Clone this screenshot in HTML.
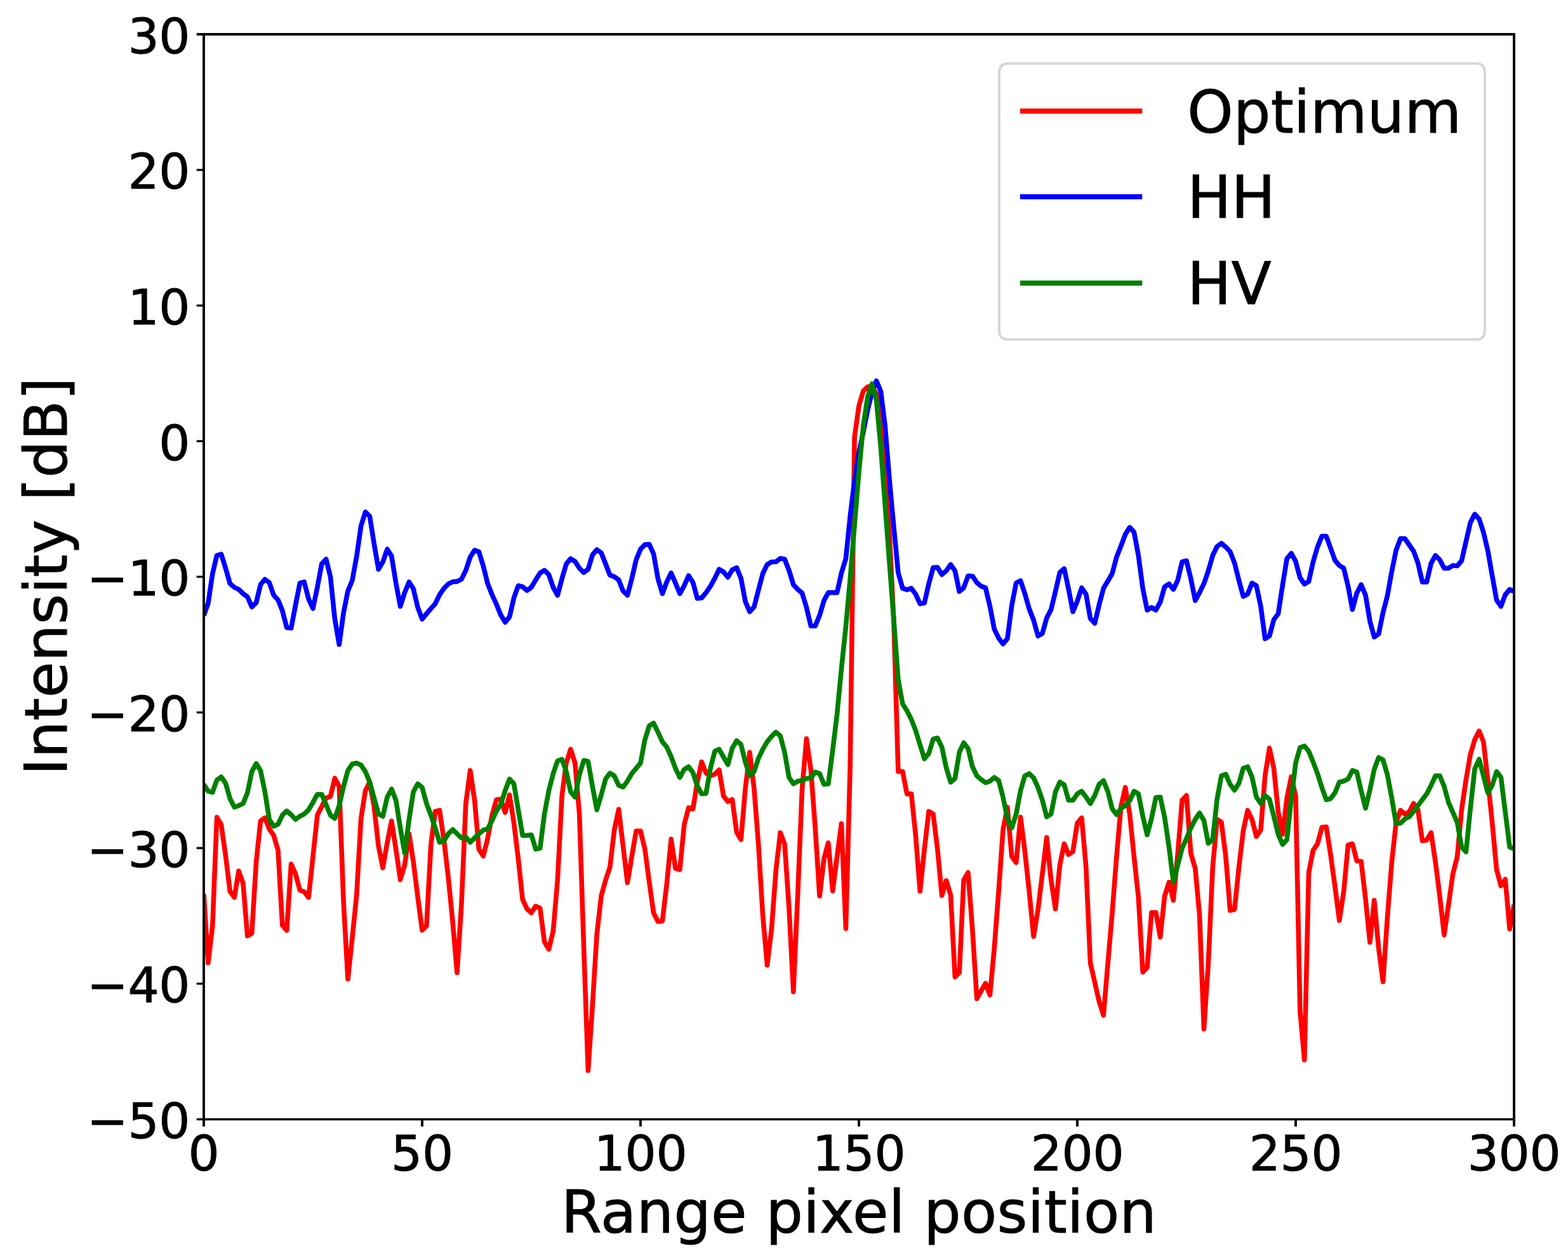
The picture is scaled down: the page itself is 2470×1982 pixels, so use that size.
<!DOCTYPE html>
<html lang="en"><head><meta charset="utf-8"><title>Intensity vs range pixel position</title>
<style>html,body{margin:0;padding:0;background:#fff}body{width:2470px;height:1982px;overflow:hidden}svg{display:block}text{font-family:"DejaVu Sans","Liberation Sans",sans-serif;fill:#000;stroke:#000;stroke-width:1.0px;stroke-linejoin:miter}</style></head><body>
<svg width="2470" height="1982" viewBox="0 0 2470 1982">
<rect width="2470" height="1982" fill="#fff"/>
<defs><clipPath id="ax"><rect x="321.0" y="54.0" width="2064.0" height="1709.5"/></clipPath></defs>
<g clip-path="url(#ax)">
<polyline points="321.0,1408.4 327.9,1516.9 334.8,1458.7 341.6,1287.6 348.5,1299.3 355.4,1348.0 362.3,1404.2 369.2,1413.8 376.0,1372.3 382.9,1391.6 389.8,1474.6 396.7,1470.4 403.6,1358.1 410.4,1293.5 417.3,1288.4 424.2,1306.1 431.1,1316.1 438.0,1339.6 444.8,1457.8 451.7,1465.7 458.6,1361.4 465.5,1376.5 472.4,1402.5 479.2,1405.0 486.1,1413.8 493.0,1349.6 499.9,1284.3 506.8,1270.8 513.6,1257.4 520.5,1254.9 527.4,1226.1 534.3,1239.0 541.2,1421.8 548.0,1542.5 554.9,1477.8 561.8,1409.7 568.7,1289.3 575.6,1245.7 582.4,1232.3 589.3,1270.8 596.2,1332.9 603.1,1367.2 610.0,1327.8 616.8,1293.5 623.7,1337.9 630.6,1386.0 637.5,1363.0 644.4,1313.6 651.2,1358.0 658.1,1413.4 665.0,1465.7 671.9,1458.7 678.8,1331.2 685.6,1278.4 692.5,1276.7 699.4,1324.5 706.3,1383.2 713.2,1453.7 720.0,1532.4 726.9,1425.2 733.8,1265.8 740.7,1213.9 747.6,1260.8 754.4,1337.9 761.3,1348.8 768.2,1321.1 775.1,1284.3 782.0,1260.0 788.8,1259.1 795.7,1280.1 802.6,1252.4 809.5,1296.0 816.4,1353.0 823.2,1416.8 830.1,1431.9 837.0,1438.2 843.9,1427.7 850.8,1431.0 857.6,1483.8 864.5,1495.6 871.4,1467.1 878.3,1386.5 885.2,1254.1 892.0,1202.1 898.9,1180.3 905.8,1202.1 912.7,1282.6 919.6,1492.0 926.4,1686.7 933.3,1584.4 940.2,1472.1 947.1,1411.8 954.0,1386.5 960.8,1366.4 967.7,1307.7 974.6,1275.0 981.5,1332.9 988.4,1390.7 995.2,1349.6 1002.1,1309.4 1009.0,1309.4 1015.9,1337.9 1022.8,1389.9 1029.6,1438.6 1036.5,1452.0 1043.4,1451.1 1050.3,1393.2 1057.2,1322.0 1064.0,1368.1 1070.9,1370.1 1077.8,1299.3 1084.7,1272.5 1091.6,1274.5 1098.4,1232.3 1105.3,1200.4 1112.2,1218.0 1119.1,1222.2 1126.0,1219.7 1132.8,1213.0 1139.7,1254.1 1146.6,1262.8 1153.5,1259.6 1160.4,1311.1 1167.2,1322.8 1174.1,1242.4 1181.0,1185.4 1187.9,1242.4 1194.8,1331.2 1201.6,1441.9 1208.5,1520.7 1215.4,1463.7 1222.3,1371.4 1229.2,1311.9 1236.0,1329.5 1242.9,1430.2 1249.8,1562.6 1256.7,1408.4 1263.6,1242.4 1270.4,1163.9 1277.3,1212.2 1284.2,1304.4 1291.1,1411.8 1298.0,1353.0 1304.8,1327.8 1311.7,1403.7 1318.6,1349.6 1325.5,1297.7 1332.4,1462.9 1339.2,1207.9 1346.1,688.7 1353.0,639.5 1359.9,616.0 1366.8,609.6 1373.6,608.5 1380.5,620.3 1387.4,656.6 1394.3,744.2 1401.2,844.6 1408.0,979.3 1414.9,1215.5 1421.8,1215.5 1428.7,1250.7 1435.6,1250.7 1442.4,1316.1 1449.3,1404.2 1456.2,1337.9 1463.1,1278.4 1470.0,1282.6 1476.8,1337.9 1483.7,1410.9 1490.6,1387.3 1497.5,1410.1 1504.4,1539.1 1511.2,1532.4 1518.1,1386.5 1525.0,1374.8 1531.9,1465.4 1538.8,1573.5 1545.6,1561.3 1552.5,1549.2 1559.4,1567.6 1566.3,1493.9 1573.2,1403.4 1580.0,1307.7 1586.9,1271.7 1593.8,1349.6 1600.7,1358.9 1607.6,1287.6 1614.4,1341.3 1621.3,1405.0 1628.2,1475.4 1635.1,1433.5 1642.0,1376.5 1648.8,1319.5 1655.7,1386.5 1662.6,1431.9 1669.5,1363.0 1676.4,1329.5 1683.2,1346.3 1690.1,1341.3 1697.0,1296.8 1703.9,1288.4 1710.8,1366.4 1717.6,1517.4 1724.5,1547.5 1731.4,1577.7 1738.3,1599.5 1745.2,1517.4 1752.0,1438.6 1758.9,1349.6 1765.8,1270.8 1772.7,1240.7 1779.6,1282.6 1786.4,1349.6 1793.3,1413.4 1800.2,1531.6 1807.1,1524.1 1814.0,1437.7 1820.8,1437.7 1827.7,1476.3 1834.6,1411.8 1841.5,1389.9 1848.4,1418.5 1855.2,1346.3 1862.1,1260.8 1869.0,1253.2 1875.9,1344.6 1882.8,1368.1 1889.6,1441.9 1896.5,1621.3 1903.4,1517.4 1910.3,1366.4 1917.2,1291.0 1924.0,1295.2 1930.9,1349.6 1937.8,1434.4 1944.7,1432.7 1951.6,1366.4 1958.4,1309.4 1965.3,1276.7 1972.2,1291.0 1979.1,1317.8 1986.0,1307.7 1992.8,1222.2 1999.7,1178.7 2006.6,1210.5 2013.5,1279.2 2020.4,1314.4 2027.2,1257.4 2034.1,1223.9 2041.0,1254.1 2047.9,1592.8 2054.8,1669.9 2061.6,1374.8 2068.5,1339.6 2075.4,1329.5 2082.3,1303.5 2089.2,1302.7 2096.0,1346.3 2102.9,1396.6 2109.8,1450.3 2116.7,1405.0 2123.6,1331.2 2130.4,1329.5 2137.3,1356.3 2144.2,1357.2 2151.1,1416.8 2158.0,1484.7 2164.8,1418.5 2171.7,1493.9 2178.6,1546.7 2185.5,1445.3 2192.4,1358.0 2199.2,1296.0 2206.1,1276.7 2213.0,1282.6 2219.9,1279.2 2226.8,1265.8 2233.6,1275.9 2240.5,1324.5 2247.4,1323.7 2254.3,1311.9 2261.2,1358.0 2268.0,1411.8 2274.9,1472.9 2281.8,1425.2 2288.7,1376.5 2295.6,1349.6 2302.4,1275.9 2309.3,1228.9 2316.2,1188.7 2323.1,1165.2 2330.0,1151.8 2336.8,1168.6 2343.7,1228.9 2350.6,1296.0 2357.5,1369.7 2364.4,1395.7 2371.2,1385.2 2378.1,1463.7 2385.0,1425.2" fill="none" stroke="#ff0000" stroke-width="7.6" stroke-linejoin="round" stroke-linecap="butt"/>
<polyline points="321.0,969.7 327.9,950.4 334.8,903.9 341.6,875.2 348.5,873.2 355.4,895.2 362.3,919.4 369.2,925.3 376.0,928.6 382.9,935.3 389.8,940.3 396.7,956.2 403.6,949.5 410.4,921.1 417.3,912.7 424.2,917.8 431.1,937.8 438.0,945.3 444.8,962.0 451.7,988.7 458.6,989.6 465.5,953.7 472.4,918.6 479.2,916.9 486.1,943.6 493.0,958.7 499.9,925.3 506.8,888.5 513.6,881.0 520.5,908.6 527.4,975.4 534.3,1015.4 541.2,965.3 548.0,931.1 554.9,914.4 561.8,876.8 568.7,828.4 575.6,806.7 582.4,813.4 589.3,856.8 596.2,896.9 603.1,885.2 610.0,865.2 616.8,876.0 623.7,918.6 630.6,955.3 637.5,933.6 644.4,916.9 651.2,927.8 658.1,957.0 665.0,975.4 671.9,967.0 678.8,958.7 685.6,951.2 692.5,937.0 699.4,926.9 706.3,919.9 713.2,916.6 720.0,916.1 726.9,912.7 733.8,898.6 740.7,877.7 747.6,866.8 754.4,869.3 761.3,891.9 768.2,919.4 775.1,937.0 782.0,952.0 788.8,968.7 795.7,980.4 802.6,972.0 809.5,942.0 816.4,922.8 823.2,924.4 830.1,930.3 837.0,925.3 843.9,913.6 850.8,902.7 857.6,898.6 864.5,905.2 871.4,925.3 878.3,937.8 885.2,911.9 892.0,888.5 898.9,880.2 905.8,884.4 912.7,895.2 919.6,901.9 926.4,896.9 933.3,874.3 940.2,866.0 947.1,871.0 954.0,888.5 960.8,906.1 967.7,908.6 974.6,913.6 981.5,931.1 988.4,937.8 995.2,911.9 1002.1,881.9 1009.0,865.2 1015.9,858.1 1022.8,857.6 1029.6,872.7 1036.5,911.9 1043.4,935.3 1050.3,916.9 1057.2,902.7 1064.0,918.6 1070.9,935.3 1077.8,922.8 1084.7,906.9 1091.6,917.8 1098.4,942.8 1105.3,942.0 1112.2,933.6 1119.1,923.6 1126.0,911.1 1132.8,896.9 1139.7,901.1 1146.6,909.4 1153.5,897.7 1160.4,894.4 1167.2,911.1 1174.1,947.8 1181.0,963.7 1187.9,956.2 1194.8,929.4 1201.6,903.6 1208.5,889.4 1215.4,885.2 1222.3,885.2 1229.2,879.7 1236.0,881.0 1242.9,898.6 1249.8,921.1 1256.7,928.6 1263.6,934.5 1270.4,957.0 1277.3,986.2 1284.2,986.2 1291.1,969.5 1298.0,946.1 1304.8,933.6 1311.7,933.6 1318.6,933.6 1325.5,902.7 1332.4,880.2 1339.2,813.4 1346.1,757.0 1353.0,712.2 1359.9,681.0 1366.8,645.9 1373.6,618.1 1380.5,600.0 1387.4,616.2 1394.3,671.6 1401.2,757.0 1408.0,831.2 1414.9,902.3 1421.8,926.9 1428.7,929.1 1435.6,926.9 1442.4,936.1 1449.3,951.2 1456.2,950.0 1463.1,919.4 1470.0,894.4 1476.8,893.9 1483.7,905.2 1490.6,899.4 1497.5,889.4 1504.4,899.4 1511.2,931.9 1518.1,926.1 1525.0,907.2 1531.9,907.7 1538.8,917.8 1545.6,923.6 1552.5,926.1 1559.4,955.3 1566.3,991.2 1573.2,1005.4 1580.0,1014.6 1586.9,1006.3 1593.8,953.7 1600.7,918.6 1607.6,914.9 1614.4,935.3 1621.3,959.5 1628.2,977.0 1635.1,1002.1 1642.0,997.9 1648.8,973.7 1655.7,960.3 1662.6,931.9 1669.5,901.9 1676.4,896.0 1683.2,927.8 1690.1,963.7 1697.0,947.0 1703.9,926.1 1710.8,936.1 1717.6,974.5 1724.5,982.0 1731.4,952.8 1738.3,926.9 1745.2,915.3 1752.0,903.6 1758.9,877.7 1765.8,860.1 1772.7,841.8 1779.6,830.9 1786.4,838.4 1793.3,875.2 1800.2,926.9 1807.1,961.2 1814.0,957.0 1820.8,961.2 1827.7,948.6 1834.6,924.4 1841.5,919.9 1848.4,928.6 1855.2,914.4 1862.1,885.2 1869.0,883.5 1875.9,911.9 1882.8,946.1 1889.6,933.6 1896.5,919.4 1903.4,899.4 1910.3,875.2 1917.2,861.0 1924.0,856.0 1930.9,861.8 1937.8,869.3 1944.7,886.9 1951.6,914.4 1958.4,939.5 1965.3,936.1 1972.2,918.6 1979.1,922.8 1986.0,955.3 1992.8,1006.3 1999.7,1002.1 2006.6,976.2 2013.5,967.0 2020.4,921.9 2027.2,880.2 2034.1,871.8 2041.0,884.4 2047.9,910.2 2054.8,920.3 2061.6,916.1 2068.5,885.2 2075.4,861.8 2082.3,844.8 2089.2,844.8 2096.0,863.5 2102.9,882.7 2109.8,891.0 2116.7,895.2 2123.6,923.6 2130.4,960.3 2137.3,934.5 2144.2,921.1 2151.1,937.8 2158.0,978.7 2164.8,1003.7 2171.7,998.7 2178.6,965.3 2185.5,938.6 2192.4,900.2 2199.2,866.8 2206.1,848.5 2213.0,848.5 2219.9,858.5 2226.8,868.5 2233.6,886.9 2240.5,916.9 2247.4,916.9 2254.3,887.7 2261.2,875.2 2268.0,881.9 2274.9,895.2 2281.8,895.2 2288.7,891.0 2295.6,891.5 2302.4,883.5 2309.3,853.5 2316.2,823.4 2323.1,810.1 2330.0,817.6 2336.8,838.4 2343.7,867.7 2350.6,906.9 2357.5,945.3 2364.4,955.3 2371.2,937.0 2378.1,928.6 2385.0,931.9" fill="none" stroke="#0000ff" stroke-width="7.6" stroke-linejoin="round" stroke-linecap="butt"/>
<polyline points="321.0,1235.7 327.9,1246.6 334.8,1248.3 341.6,1229.0 348.5,1224.0 355.4,1234.0 362.3,1258.3 369.2,1271.7 376.0,1269.2 382.9,1265.9 389.8,1249.1 396.7,1215.6 403.6,1203.0 410.4,1213.9 417.3,1247.4 424.2,1291.0 431.1,1301.9 438.0,1298.6 444.8,1284.3 451.7,1277.6 458.6,1283.5 465.5,1291.0 472.4,1286.0 479.2,1282.6 486.1,1275.9 493.0,1264.2 499.9,1251.6 506.8,1251.6 513.6,1267.5 520.5,1284.3 527.4,1289.3 534.3,1269.2 541.2,1239.0 548.0,1213.9 554.9,1203.8 561.8,1202.2 568.7,1205.5 575.6,1215.6 582.4,1232.3 589.3,1257.5 596.2,1282.6 603.1,1286.0 610.0,1255.8 616.8,1243.2 623.7,1260.8 630.6,1304.4 637.5,1343.8 644.4,1291.0 651.2,1247.4 658.1,1234.9 665.0,1240.7 671.9,1265.9 678.8,1284.3 685.6,1304.4 692.5,1327.1 699.4,1324.5 706.3,1313.6 713.2,1306.9 720.0,1313.6 726.9,1320.3 733.8,1318.7 740.7,1327.1 747.6,1320.3 754.4,1313.6 761.3,1307.8 768.2,1306.1 775.1,1292.7 782.0,1277.6 788.8,1267.5 795.7,1245.8 802.6,1227.3 809.5,1234.9 816.4,1275.9 823.2,1316.2 830.1,1316.2 837.0,1315.3 843.9,1337.9 850.8,1336.3 857.6,1282.6 864.5,1245.8 871.4,1218.9 878.3,1198.8 885.2,1196.3 892.0,1215.6 898.9,1247.4 905.8,1255.8 912.7,1220.6 919.6,1198.0 926.4,1199.7 933.3,1239.0 940.2,1275.9 947.1,1252.5 954.0,1227.3 960.8,1218.1 967.7,1222.3 974.6,1237.4 981.5,1239.9 988.4,1230.7 995.2,1218.9 1002.1,1210.5 1009.0,1202.2 1015.9,1165.3 1022.8,1143.5 1029.6,1139.3 1036.5,1153.6 1043.4,1168.6 1050.3,1177.0 1057.2,1192.1 1064.0,1210.5 1070.9,1224.8 1077.8,1212.2 1084.7,1208.0 1091.6,1217.3 1098.4,1238.2 1105.3,1250.8 1112.2,1249.9 1119.1,1210.5 1126.0,1183.7 1132.8,1180.4 1139.7,1192.9 1146.6,1204.7 1153.5,1178.7 1160.4,1167.0 1167.2,1172.8 1174.1,1200.5 1181.0,1222.3 1187.9,1215.6 1194.8,1194.6 1201.6,1180.4 1208.5,1168.6 1215.4,1160.3 1222.3,1153.6 1229.2,1159.4 1236.0,1185.4 1242.9,1224.8 1249.8,1234.9 1256.7,1230.7 1263.6,1229.8 1270.4,1226.5 1277.3,1225.6 1284.2,1216.4 1291.1,1218.9 1298.0,1235.7 1304.8,1234.9 1311.7,1182.1 1318.6,1125.1 1325.5,1053.2 1332.4,987.4 1339.2,912.2 1346.1,827.5 1353.0,743.4 1359.9,670.5 1366.8,625.4 1373.6,604.7 1380.5,630.1 1387.4,704.0 1394.3,796.6 1401.2,888.0 1408.0,978.2 1414.9,1070.5 1421.8,1108.8 1428.7,1120.0 1435.6,1133.4 1442.4,1151.0 1449.3,1173.7 1456.2,1195.5 1463.1,1187.1 1470.0,1164.5 1476.8,1162.8 1483.7,1177.0 1490.6,1209.7 1497.5,1232.3 1504.4,1226.5 1511.2,1185.4 1518.1,1170.3 1525.0,1179.5 1531.9,1208.0 1538.8,1222.3 1545.6,1228.2 1552.5,1233.2 1559.4,1230.7 1566.3,1224.8 1573.2,1229.8 1580.0,1255.8 1586.9,1289.3 1593.8,1304.4 1600.7,1282.6 1607.6,1245.8 1614.4,1222.3 1621.3,1218.9 1628.2,1225.6 1635.1,1240.7 1642.0,1260.8 1648.8,1286.8 1655.7,1282.6 1662.6,1247.4 1669.5,1232.3 1676.4,1236.5 1683.2,1260.8 1690.1,1260.8 1697.0,1250.8 1703.9,1246.6 1710.8,1255.8 1717.6,1265.9 1724.5,1253.3 1731.4,1235.7 1738.3,1229.8 1745.2,1247.4 1752.0,1274.2 1758.9,1283.5 1765.8,1273.4 1772.7,1269.2 1779.6,1261.7 1786.4,1246.6 1793.3,1250.8 1800.2,1286.0 1807.1,1315.3 1814.0,1289.3 1820.8,1256.6 1827.7,1255.8 1834.6,1287.7 1841.5,1334.6 1848.4,1389.9 1855.2,1363.1 1862.1,1336.3 1869.0,1321.2 1875.9,1304.4 1882.8,1291.0 1889.6,1281.0 1896.5,1292.7 1903.4,1328.7 1910.3,1322.9 1917.2,1259.2 1924.0,1222.3 1930.9,1219.8 1937.8,1235.7 1944.7,1244.9 1951.6,1234.0 1958.4,1210.5 1965.3,1208.0 1972.2,1224.0 1979.1,1255.8 1986.0,1265.9 1992.8,1253.3 1999.7,1259.2 2006.6,1286.0 2013.5,1314.5 2020.4,1330.4 2027.2,1322.9 2034.1,1259.2 2041.0,1202.2 2047.9,1177.9 2054.8,1175.3 2061.6,1183.7 2068.5,1200.5 2075.4,1218.9 2082.3,1240.7 2089.2,1260.0 2096.0,1258.3 2102.9,1249.1 2109.8,1232.3 2116.7,1230.7 2123.6,1227.3 2130.4,1213.9 2137.3,1216.4 2144.2,1245.8 2151.1,1273.4 2158.0,1244.1 2164.8,1212.2 2171.7,1193.5 2178.6,1197.1 2185.5,1220.6 2192.4,1257.5 2199.2,1297.7 2206.1,1296.9 2213.0,1290.2 2219.9,1286.8 2226.8,1278.4 2233.6,1269.2 2240.5,1260.0 2247.4,1250.8 2254.3,1237.4 2261.2,1222.3 2268.0,1222.3 2274.9,1239.0 2281.8,1264.2 2288.7,1280.1 2295.6,1296.0 2302.4,1334.6 2309.3,1342.1 2316.2,1274.2 2323.1,1211.4 2330.0,1196.3 2336.8,1222.3 2343.7,1249.1 2350.6,1237.4 2357.5,1215.6 2364.4,1224.8 2371.2,1279.3 2378.1,1334.6 2385.0,1337.1" fill="none" stroke="#008000" stroke-width="7.6" stroke-linejoin="round" stroke-linecap="butt"/>
</g>
<g stroke="#000" fill="none" stroke-linecap="butt">
<line x1="321.00" y1="1763.50" x2="321.00" y2="1774.80" stroke-width="3.9"/>
<line x1="665.00" y1="1763.50" x2="665.00" y2="1774.80" stroke-width="3.9"/>
<line x1="1009.00" y1="1763.50" x2="1009.00" y2="1774.80" stroke-width="3.9"/>
<line x1="1353.00" y1="1763.50" x2="1353.00" y2="1774.80" stroke-width="3.9"/>
<line x1="1697.00" y1="1763.50" x2="1697.00" y2="1774.80" stroke-width="3.9"/>
<line x1="2041.00" y1="1763.50" x2="2041.00" y2="1774.80" stroke-width="3.9"/>
<line x1="2385.00" y1="1763.50" x2="2385.00" y2="1774.80" stroke-width="3.9"/>
<line x1="309.70" y1="1763.50" x2="321.00" y2="1763.50" stroke-width="3.3"/>
<line x1="309.70" y1="1549.81" x2="321.00" y2="1549.81" stroke-width="3.3"/>
<line x1="309.70" y1="1336.12" x2="321.00" y2="1336.12" stroke-width="3.3"/>
<line x1="309.70" y1="1122.44" x2="321.00" y2="1122.44" stroke-width="3.3"/>
<line x1="309.70" y1="908.75" x2="321.00" y2="908.75" stroke-width="3.3"/>
<line x1="309.70" y1="695.06" x2="321.00" y2="695.06" stroke-width="3.3"/>
<line x1="309.70" y1="481.38" x2="321.00" y2="481.38" stroke-width="3.3"/>
<line x1="309.70" y1="267.69" x2="321.00" y2="267.69" stroke-width="3.3"/>
<line x1="309.70" y1="54.00" x2="321.00" y2="54.00" stroke-width="4.0"/>
<line x1="321.00" y1="52.00" x2="321.00" y2="1765.15" stroke-width="3.9"/>
<line x1="2385.00" y1="52.00" x2="2385.00" y2="1765.15" stroke-width="3.9"/>
<line x1="319.05" y1="54.00" x2="2386.95" y2="54.00" stroke-width="4.0"/>
<line x1="319.05" y1="1763.50" x2="2386.95" y2="1763.50" stroke-width="3.3"/>
</g>
<g font-size="77.3" letter-spacing="-0.3">
<text x="321.00" y="1843.60" text-anchor="middle">0</text>
<text x="665.00" y="1843.60" text-anchor="middle">50</text>
<text x="1009.00" y="1843.60" text-anchor="middle">100</text>
<text x="1353.00" y="1843.60" text-anchor="middle">150</text>
<text x="1697.00" y="1843.60" text-anchor="middle">200</text>
<text x="2041.00" y="1843.60" text-anchor="middle">250</text>
<text x="2385.00" y="1843.60" text-anchor="middle">300</text>
<text x="299.20" y="1793.00" text-anchor="end">−50</text>
<text x="299.20" y="1579.31" text-anchor="end">−40</text>
<text x="299.20" y="1365.62" text-anchor="end">−30</text>
<text x="299.20" y="1151.94" text-anchor="end">−20</text>
<text x="299.20" y="938.25" text-anchor="end">−10</text>
<text x="299.20" y="724.56" text-anchor="end">0</text>
<text x="299.20" y="510.88" text-anchor="end">10</text>
<text x="299.20" y="297.19" text-anchor="end">20</text>
<text x="299.20" y="83.50" text-anchor="end">30</text>
</g>
<text x="1353.00" y="1941.80" font-size="92" letter-spacing="0.3" text-anchor="middle">Range pixel position</text>
<text transform="translate(104.70,908.00) rotate(-90)" font-size="92" letter-spacing="0.3" text-anchor="middle">Intensity [dB]</text>
<path d="M1588.50,100.00 H2324.50 Q2339.00,100.00 2339.00,114.50 V520.40 Q2339.00,534.90 2324.50,534.90 H1588.50 Q1574.00,534.90 1574.00,520.40 V114.50 Q1574.00,100.00 1588.50,100.00 Z" fill="#fff" fill-opacity="0.8" stroke="#cccccc" stroke-opacity="0.8" stroke-width="3.9"/>
<line x1="1607.00" y1="174.90" x2="1799.30" y2="174.90" stroke="#ff0000" stroke-width="8"/>
<text x="1870.30" y="208.50" font-size="92" letter-spacing="0.3">Optimum</text>
<line x1="1607.00" y1="310.10" x2="1799.30" y2="310.10" stroke="#0000ff" stroke-width="8"/>
<text x="1870.30" y="343.20" font-size="92" letter-spacing="0.3">HH</text>
<line x1="1607.00" y1="446.10" x2="1799.30" y2="446.10" stroke="#008000" stroke-width="8"/>
<text x="1870.30" y="479.20" font-size="92" letter-spacing="0.3">HV</text>
</svg></body></html>
